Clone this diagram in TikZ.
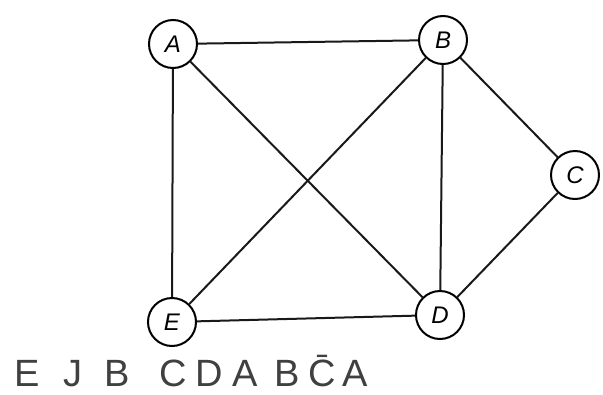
\documentclass[tikz,border=0pt]{standalone}
\usepackage{fontspec}
\setsansfont{Liberation Sans}
\begin{document}
\begin{tikzpicture}[x=1pt,y=-1pt,
  vtx/.style={circle,draw=black,line width=2pt,fill=white,minimum size=48pt,inner sep=0pt,font=\sffamily\itshape\fontsize{24}{24}\selectfont},
  edge/.style={line width=2pt,draw=black!90},
  hand/.style={font=\sffamily\fontsize{38}{38}\selectfont,text=black!75,anchor=west,inner sep=0pt}]
\fill[white] (0,0) rectangle (603,394);
\useasboundingbox (0,0) rectangle (603,394);
\node[vtx] (A) at (173,44) {A};
\node[vtx] (B) at (443,40) {B};
\node[vtx] (C) at (575,175) {C};
\node[vtx] (D) at (440,315) {D};
\node[vtx] (E) at (172,322) {E};
\draw[edge] (A) -- (B);
\draw[edge] (A) -- (E);
\draw[edge] (A) -- (D);
\draw[edge] (B) -- (E);
\draw[edge] (B) -- (D);
\draw[edge] (B) -- (C);
\draw[edge] (C) -- (D);
\draw[edge] (E) -- (D);
\node[hand] (hw) at (14,371) {E\hspace{24pt}J\hspace{22pt}B\hspace{30pt}C\hspace{8pt}D\hspace{10pt}A\hspace{16pt}B\hspace{9pt}\={C}\hspace{7pt}A};
\end{tikzpicture}
\end{document}
